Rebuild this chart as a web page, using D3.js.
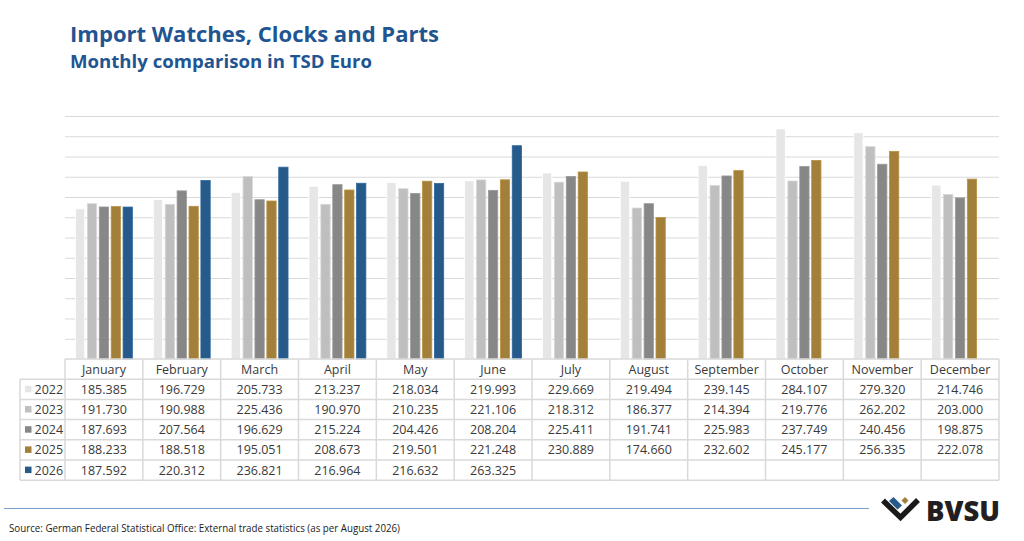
<!DOCTYPE html>
<html>
<head>
<meta charset="utf-8">
<script src="https://cdn.jsdelivr.net/npm/d3@7"></script>
<style>
  html, body { margin: 0; padding: 0; background: #fff; }
  svg { display: block; font-family: "Open Sans", "Noto Sans", sans-serif; }
</style>
</head>
<body>
<svg id="chart" width="1024" height="541"></svg>
<script>
const months = ["January","February","March","April","May","June","July","August","September","October","November","December"];
const years = ["2022","2023","2024","2025","2026"];
const v2022 = [185.385,196.729,205.733,213.237,218.034,219.993,229.669,219.494,239.145,284.107,279.320,214.746];
const v2023 = [191.730,190.988,225.436,190.970,210.235,221.106,218.312,186.377,214.394,219.776,262.202,203.000];
const v2024 = [187.693,207.564,196.629,215.224,204.426,208.204,225.411,191.741,225.983,237.749,240.456,198.875];
const v2025 = [188.233,188.518,195.051,208.673,219.501,221.248,230.889,174.660,232.602,245.177,256.335,222.078];
const v2026 = [187.592,220.312,236.821,216.964,216.632,263.325,null,null,null,null,null,null];
const seriesValues = [v2022, v2023, v2024, v2025, v2026];
const colors = ["#e6e6e6","#bfbfbf","#878787","#a3803a","#255a8b"];
const gridTicks = d3.range(25, 301, 25);

(function () {
const svg = d3.select("#chart");
const plotLeft = 65, plotRight = 999, plotTop = 116, base = 359;
const rowH = 20.2, legendLeft = 20;

const x = d3.scaleBand().domain(months).range([plotLeft, plotRight]);
const x1 = d3.scaleBand().domain(years).range([0, x.bandwidth()]).paddingInner(0.22).paddingOuter(0.88);
const y = d3.scaleLinear().domain([0, 300]).range([base, plotTop]);

// title
svg.append("text").attr("x", 70).attr("y", 42)
  .attr("font-size", 22).attr("font-weight", 700).attr("fill", "#1f5591")
  .attr("textLength", 369).attr("lengthAdjust", "spacingAndGlyphs")
  .text("Import Watches, Clocks and Parts");
svg.append("text").attr("x", 70).attr("y", 67.5)
  .attr("font-size", 18).attr("font-weight", 700).attr("fill", "#1f5591")
  .attr("textLength", 302).attr("lengthAdjust", "spacingAndGlyphs")
  .text("Monthly comparison in TSD Euro");

// gridlines
const grid = svg.append("g").attr("transform", `translate(${plotLeft},0)`)
  .call(d3.axisLeft(y).tickValues(gridTicks).tickSize(-(plotRight - plotLeft)).tickFormat(""));
grid.select(".domain").remove();
grid.selectAll(".tick line").attr("stroke", "#d9d9d9").attr("stroke-width", 1);

// bars
years.forEach((yr, i) => {
  const data = months.map((m, j) => ({ m, v: seriesValues[i][j] })).filter(d => d.v != null);
  svg.append("g").selectAll("rect").data(data).join("rect")
    .attr("x", d => x(d.m) + x1(yr))
    .attr("y", d => y(d.v))
    .attr("width", x1.bandwidth())
    .attr("height", d => y(0) - y(d.v))
    .attr("fill", colors[i])
    .attr("stroke", d3.color(colors[i]).brighter(0.35))
    .attr("stroke-width", 0.8);
});

// data table
const tbl = svg.append("g");
const lineColor = "#d9d9d9";
const tableBottom = base + rowH + rowH * years.length;
tbl.append("line").attr("x1", plotLeft).attr("x2", plotRight).attr("y1", base).attr("y2", base)
  .attr("stroke", lineColor).attr("stroke-width", 1.5);
d3.range(years.length + 1).forEach(k => {
  const yy = base + rowH * (k + 1);
  tbl.append("line").attr("x1", legendLeft).attr("x2", plotRight).attr("y1", yy).attr("y2", yy)
    .attr("stroke", lineColor).attr("stroke-width", 1.5);
});
tbl.append("line").attr("x1", legendLeft).attr("x2", legendLeft).attr("y1", base + rowH).attr("y2", tableBottom)
  .attr("stroke", lineColor).attr("stroke-width", 1.5);
months.concat(["_end"]).forEach(m => {
  const xx = m === "_end" ? plotRight : x(m);
  tbl.append("line").attr("x1", xx).attr("x2", xx).attr("y1", base).attr("y2", tableBottom)
    .attr("stroke", lineColor).attr("stroke-width", 1.5);
});
tbl.selectAll("text.hdr").data(months).join("text").attr("class", "hdr")
  .attr("x", d => x(d) + x.bandwidth() / 2).attr("y", base + 14.5)
  .attr("text-anchor", "middle").attr("font-size", 12.5).attr("fill", "#3a3a3a")
  .text(d => d);
const fmt = v => v.toFixed(3);
years.forEach((yr, i) => {
  const ry = base + rowH * (i + 1);
  tbl.append("rect").attr("x", 25).attr("y", ry + rowH / 2 - 3.5).attr("width", 6.5).attr("height", 6.5)
    .attr("fill", colors[i]);
  tbl.append("text").attr("x", 34.5).attr("y", ry + 14.5).attr("font-size", 12.5).attr("fill", "#3a3a3a").text(yr);
  months.forEach((m, j) => {
    const v = seriesValues[i][j];
    if (v == null) return;
    tbl.append("text").attr("x", x(m) + x.bandwidth() / 2).attr("y", ry + 14.5)
      .attr("text-anchor", "middle").attr("font-size", 12.5).attr("fill", "#3a3a3a")
      .text(fmt(v));
  });
});

// footer line + source
svg.append("line").attr("x1", 4).attr("x2", 869).attr("y1", 508.5).attr("y2", 508.5)
  .attr("stroke", "#7ba0cc").attr("stroke-width", 1.2);
svg.append("text").attr("x", 9).attr("y", 532).attr("font-size", 11.5).attr("fill", "#1a1a1a")
  .attr("textLength", 391).attr("lengthAdjust", "spacingAndGlyphs")
  .text("Source: German Federal Statistical Office: External trade statistics (as per August 2026)");

// logo
const logo = svg.append("g");
logo.append("polyline").attr("points", "883,500.5 900.5,517.5 918,500")
  .attr("fill", "none").attr("stroke", "#1a1a1a").attr("stroke-width", 5.5).attr("stroke-linejoin", "miter");
logo.append("polygon").attr("points", "889,501 893.5,497 902,505.5 897.5,509.5").attr("fill", "#255a8b");
logo.append("polygon").attr("points", "905,497 908.5,500.5 905,504 901.5,500.5").attr("fill", "#a3803a");
logo.append("text").attr("x", 926).attr("y", 520.5).attr("font-size", 28.5).attr("font-weight", 800)
  .attr("fill", "#231f20").attr("textLength", 74).attr("lengthAdjust", "spacingAndGlyphs").text("BVSU");
})();
</script>
</body>
</html>
